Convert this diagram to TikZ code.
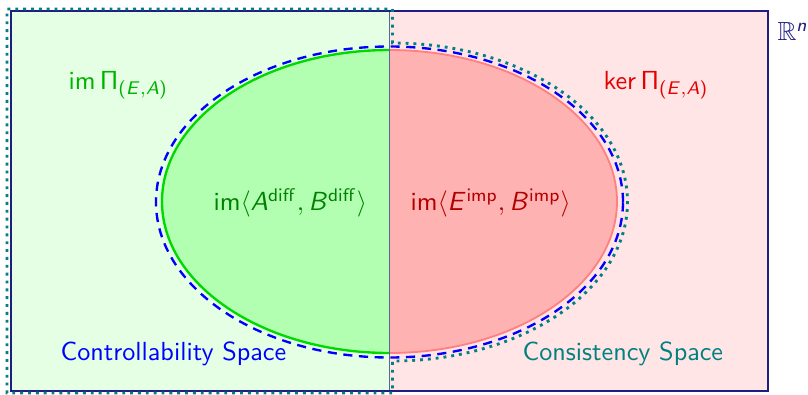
\documentclass[tikz,border=0pt]{standalone}
\usepackage{amssymb}
\DeclareSymbolFont{operators}{OT1}{cmss}{m}{n}
\DeclareSymbolFont{sfit}{OT1}{cmss}{m}{sl}
\DeclareMathSymbol{A}{\mathalpha}{sfit}{`A}
\DeclareMathSymbol{B}{\mathalpha}{sfit}{`B}
\DeclareMathSymbol{E}{\mathalpha}{sfit}{`E}
\DeclareMathSymbol{n}{\mathalpha}{sfit}{`n}
\definecolor{navy}{RGB}{30,30,130}
\definecolor{divcol}{RGB}{90,100,150}
\begin{document}
\begin{tikzpicture}[x=0.382pt,y=0.382pt,
  lbl/.style={inner sep=0pt, anchor=base west, font=\sffamily},
  gstroke/.style={draw=green!85!black, line width=0.9pt},
  rstroke/.style={draw=red!50, line width=0.7pt},
  bdash/.style={draw=blue, line width=0.9pt, dash pattern=on 3.5pt off 2.5pt},
  tdot/.style={draw=teal, line width=1.1pt, dash pattern=on 1.1pt off 1.9pt},
  outer/.style={draw=navy, line width=0.9pt}]
\useasboundingbox (0,0) rectangle (808,394);
% half planes
\fill[green!10] (10.7,3.3) rectangle (389.5,383.3);
\fill[red!10] (389.5,3.3) rectangle (767.7,383.3);
% half ellipses
\fill[green!30] (389.5,344) arc[start angle=90,end angle=270,x radius=227.5,y radius=151.5] -- cycle;
\fill[red!30] (389.5,344) arc[start angle=90,end angle=-90,x radius=227.5,y radius=151.5] -- cycle;
\draw[gstroke] (389.5,344) arc[start angle=90,end angle=270,x radius=227.5,y radius=151.5];
\draw[rstroke] (389.5,344) arc[start angle=90,end angle=-90,x radius=227.5,y radius=151.5];
% divider
\draw[draw=divcol, line width=0.5pt] (389.5,3.3) -- (389.5,383.3);
% outer space
\draw[outer] (10.7,3.3) rectangle (767.7,383.3);
% controllability (dashed ellipse)
\draw[bdash] (389.5,192) ellipse[x radius=233.5,y radius=155.5];
% consistency (dotted)
\draw[tdot] (392.5,385) -- (392.5,351) arc[start angle=90,end angle=-90,x radius=235,y radius=159] -- (392.5,1) -- (7,1) -- (7,385) -- cycle;
% labels
\node[lbl, text=green!70!black] (imPi) at (68,304.5) {im\,$\Pi_{(E,A)}$};
\node[lbl, text=red!90!black] (kerPi) at (603,304.7) {ker\,$\Pi_{(E,A)}$};
\node[lbl, text=navy] (Rn) at (777,353.3) {$\mathbb{R}^{n}$};
\node[lbl, text=green!50!black] (diff) at (213,183.3) {im$\langle A^{\mathsf{diff}}, B^{\mathsf{diff}}\rangle$};
\node[lbl, text=red!70!black] (imp) at (410,183.3) {im$\langle E^{\mathsf{imp}}, B^{\mathsf{imp}}\rangle$};
\node[lbl, text=blue] (ctrl) at (60,33.3) {Controllability Space};
\node[lbl, text=teal] (cons) at (522,33.3) {Consistency Space};
\end{tikzpicture}
\end{document}
